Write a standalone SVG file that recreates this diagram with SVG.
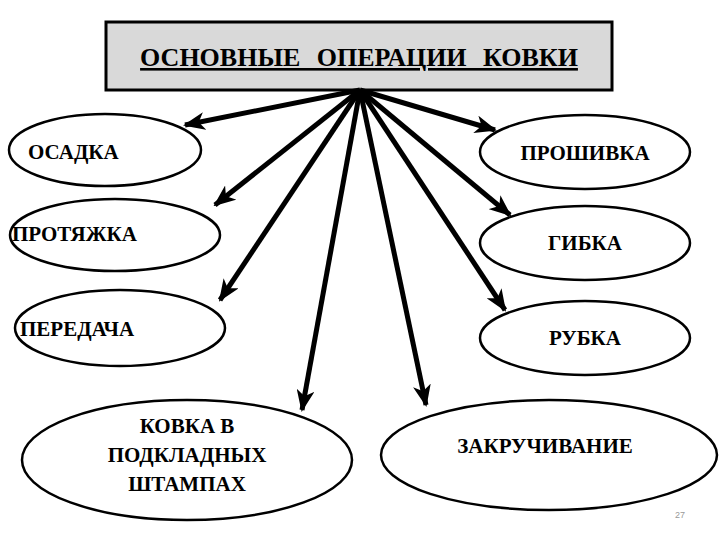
<svg xmlns="http://www.w3.org/2000/svg" width="720" height="540" viewBox="0 0 720 540">
<style>
.n{fill:#fff;stroke:#000;stroke-width:2.5}
.t{font-family:'Liberation Serif','Times New Roman','DejaVu Serif',serif;font-weight:bold;font-size:21px;fill:#000}
.c line{stroke:#000;stroke-width:5;marker-end:url(#a)}
</style>
<defs><marker id="a" markerUnits="userSpaceOnUse" markerWidth="22" markerHeight="18" refX="20" refY="9" orient="auto"><path d="M0,0 L22,9 L0,18 L6,9 Z" fill="#000"/></marker></defs>
<rect width="720" height="540" fill="#fff"/>
<g id="title"><rect x="106" y="22" width="506" height="68" fill="#d9d9d9" stroke="#000" stroke-width="3"/>
<text class="t" x="359" y="66" text-anchor="middle" text-decoration="underline" style="font-size:26px" word-spacing="10">ОСНОВНЫЕ ОПЕРАЦИИ КОВКИ</text></g>
<g id="n1"><ellipse class="n" cx="105" cy="150" rx="96" ry="36"/><text class="t" x="28" y="159">ОСАДКА</text></g>
<g id="n2"><ellipse class="n" cx="585" cy="152" rx="105" ry="37"/><text class="t" x="585" y="160" text-anchor="middle">ПРОШИВКА</text></g>
<g id="n3"><ellipse class="n" cx="115" cy="235" rx="105" ry="36"/><text class="t" x="12" y="241">ПРОТЯЖКА</text></g>
<g id="n4"><ellipse class="n" cx="585" cy="243" rx="105" ry="37"/><text class="t" x="585" y="250" text-anchor="middle">ГИБКА</text></g>
<g id="n5"><ellipse class="n" cx="120" cy="328" rx="105" ry="38"/><text class="t" x="20" y="336">ПЕРЕДАЧА</text></g>
<g id="n6"><ellipse class="n" cx="585" cy="338" rx="105" ry="37"/><text class="t" x="585" y="345" text-anchor="middle">РУБКА</text></g>
<g id="n7"><ellipse class="n" cx="187" cy="460" rx="165" ry="60"/><text class="t" text-anchor="middle"><tspan x="187" y="433">КОВКА В</tspan><tspan x="187" y="462">ПОДКЛАДНЫХ</tspan><tspan x="187" y="491">ШТАМПАХ</tspan></text></g>
<g id="n8"><ellipse class="n" cx="549" cy="455" rx="168" ry="55"/><text class="t" x="545" y="453" text-anchor="middle">ЗАКРУЧИВАНИЕ</text></g>
<g class="c" id="connectors">
<line x1="360" y1="90" x2="185" y2="125"/>
<line x1="360" y1="90" x2="495" y2="130"/>
<line x1="360" y1="90" x2="215" y2="205"/>
<line x1="360" y1="90" x2="510" y2="215"/>
<line x1="360" y1="90" x2="220" y2="300"/>
<line x1="360" y1="90" x2="505" y2="310"/>
<line x1="360" y1="90" x2="302" y2="410"/>
<line x1="360" y1="90" x2="426" y2="405"/>
</g>
<text x="675" y="518" font-family="'Liberation Sans',sans-serif" font-size="9" fill="#999">27</text>
</svg>
